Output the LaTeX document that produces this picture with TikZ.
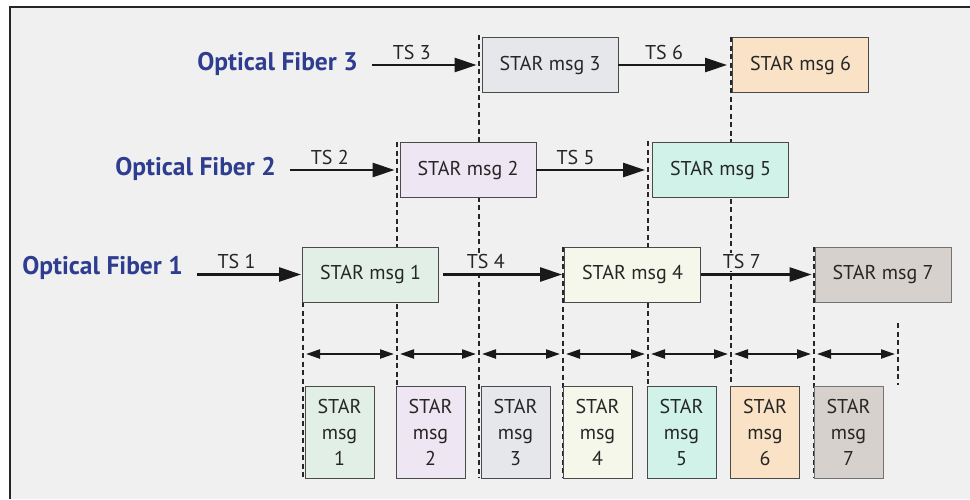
\documentclass[tikz,border=0pt]{standalone}
\usepackage{fontspec}
\setmainfont{PT Sans}
\usetikzlibrary{arrows.meta}
\pgfdeclarelayer{frame}
\pgfdeclarelayer{back}
\pgfsetlayers{frame,back,main}
\definecolor{bg}{HTML}{F0F0F0}
\definecolor{fiberblue}{HTML}{2E3D8F}
\definecolor{bord}{HTML}{4A4A4A}
\definecolor{cA}{HTML}{E1EFE6}
\definecolor{cB}{HTML}{EEE6F2}
\definecolor{cC}{HTML}{E6E7EA}
\definecolor{cD}{HTML}{F4F7E9}
\definecolor{cE}{HTML}{D0F2E9}
\definecolor{cF}{HTML}{FAE2C7}
\definecolor{cG}{HTML}{D6D1CC}
\tikzset{
  msgbox/.style={draw=bord, line width=0.9pt, minimum width=136pt, minimum height=55pt, inner sep=0pt, font=\fontsize{20}{24}\selectfont, text=black!85},
  smallbox/.style={draw=bord, line width=0.9pt, minimum width=69pt, minimum height=92pt, inner sep=0pt, align=center, font=\fontsize{20}{26}\selectfont, text=black!85},
  fiber/.style={anchor=east, font=\bfseries\fontsize{25.5}{28}\selectfont, text=fiberblue, inner sep=0pt},
  tsarrow/.style={line width=2.7pt, draw=black!90, -{Triangle[length=22pt,width=14pt]}},
  tslabel/.style={above=2.5pt, pos=0.38, fill=bg, inner sep=1.5pt, font=\fontsize{20}{22}\selectfont, text=black!85},
  span/.style={line width=2.2pt, draw=black!90, {Triangle[length=14pt,width=9pt]}-{Triangle[length=14pt,width=9pt]}},
  guide/.style={line width=1.1pt, draw=black!85, dash pattern=on 5pt off 3.5pt}
}
\begin{document}
\begin{tikzpicture}[x=1pt,y=-1pt]
\useasboundingbox (0,0) rectangle (970,499);
\begin{pgfonlayer}{frame}
  \fill[bg] (10,7) rectangle (970,499);
  \draw[line width=1.3pt, draw=black!85] (10,499) -- (10,7) -- (970,7);
\end{pgfonlayer}

% fiber labels
\node[fiber] (f3) at (358,64) {Optical Fiber 3};
\node[fiber] (f2) at (276,169) {Optical Fiber 2};
\node[fiber] (f1) at (183,268) {Optical Fiber 1};

% message boxes
\node[msgbox, fill=cC] (m3) at (550,65) {STAR msg 3};
\node[msgbox, fill=cF] (m6) at (800.5,65) {STAR msg 6};
\node[msgbox, fill=cB] (m2) at (468,170) {STAR msg 2};
\node[msgbox, fill=cE] (m5) at (720.5,170) {STAR msg 5};
\node[msgbox, fill=cA] (m1) at (370.5,274.5) {STAR msg 1};
\node[msgbox, fill=cD] (m4) at (632.5,274.5) {STAR msg 4};
\node[msgbox, fill=cG, draw=black!55] (m7) at (883,274.5) {STAR msg 7};

% bottom boxes
\node[smallbox, fill=cA] (b1) at (339.5,432) {STAR\\msg\\1};
\node[smallbox, fill=cB] (b2) at (430.5,432) {STAR\\msg\\2};
\node[smallbox, fill=cC] (b3) at (515.5,432) {STAR\\msg\\3};
\node[smallbox, fill=cD] (b4) at (597.5,432) {STAR\\msg\\4};
\node[smallbox, fill=cE] (b5) at (681.5,432) {STAR\\msg\\5};
\node[smallbox, fill=cF] (b6) at (765,432) {STAR\\msg\\6};
\node[smallbox, fill=cG, draw=black!55] (b7) at (848.5,432) {STAR\\msg\\7};

% guide coordinates
\coordinate (g1t) at (303,302); \coordinate (g1b) at (303,478);
\coordinate (g2t) at (397,142); \coordinate (g2b) at (397,478);
\coordinate (g3t) at (479,35);  \coordinate (g3b) at (479,478);
\coordinate (g4t) at (563,247); \coordinate (g4b) at (563,478);
\coordinate (g5t) at (648,141); \coordinate (g5b) at (648,478);
\coordinate (g6t) at (731,37);  \coordinate (g6b) at (731,478);
\coordinate (g7t) at (814,247); \coordinate (g7b) at (814,478);
\coordinate (g8t) at (898,323); \coordinate (g8b) at (898,385);

\begin{pgfonlayer}{back}
  \foreach \i in {1,...,8} { \draw[guide] (g\i t) -- (g\i b); }
\end{pgfonlayer}

% TS arrows
\draw[tsarrow] ([xshift=14pt]f3.east |- m3.west) -- ([xshift=-5pt]m3.west) node[tslabel] {TS 3};
\draw[tsarrow] (m3.east) -- ([xshift=-5pt]m6.west) node[tslabel, pos=0.42] {TS 6};
\draw[tsarrow] ([xshift=14pt]f2.east |- m2.west) -- ([xshift=-5pt]m2.west) node[tslabel] {TS 2};
\draw[tsarrow] (m2.east) -- ([xshift=-7pt]m5.west) node[tslabel, pos=0.36] {TS 5};
\draw[tsarrow] ([xshift=14pt]f1.east |- m1.west) -- ([xshift=-1pt]m1.west) node[tslabel] {TS 1};
\draw[tsarrow] ([xshift=4pt]m1.east) -- ([xshift=-2pt]m4.west) node[tslabel, pos=0.36] {TS 4};
\draw[tsarrow] (m4.east) -- ([xshift=-3pt]m7.west) node[tslabel, pos=0.37] {TS 7};

% span arrows
\foreach \a/\b in {1/2,2/3,3/4,4/5,5/6,6/7,7/8} {
  \draw[span] ([xshift=3pt]g\a t |- 0,354) -- ([xshift=-3pt]g\b t |- 0,354);
}
\end{tikzpicture}
\end{document}
